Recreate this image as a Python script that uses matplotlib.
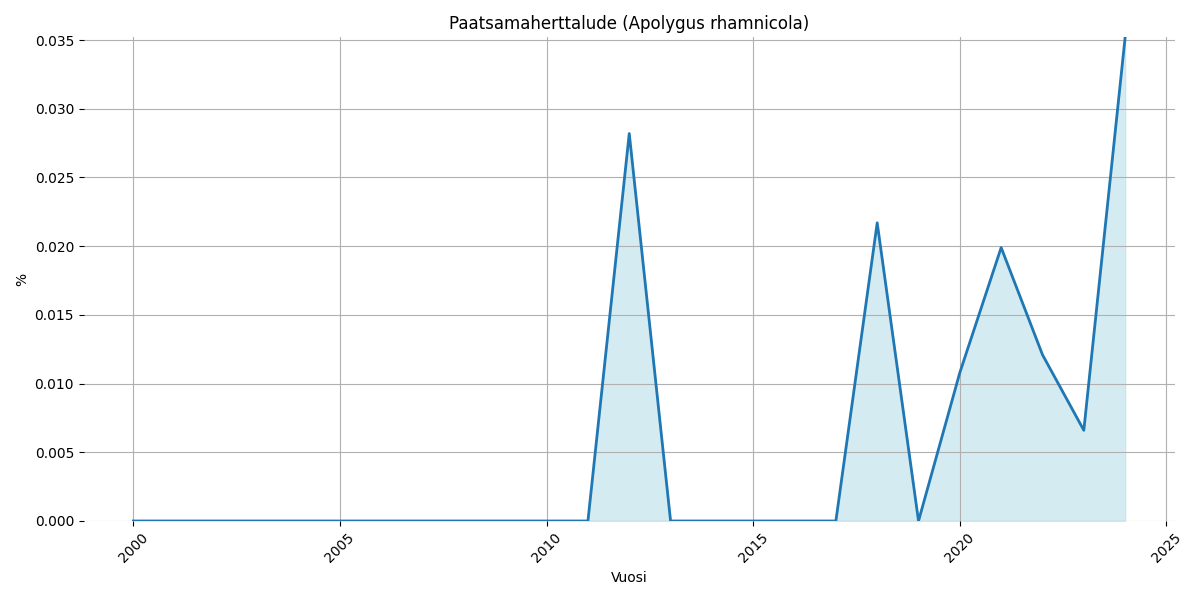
import numpy as np
import matplotlib.pyplot as plt

# Données
years = list(range(2000, 2025))
values = [0, 0, 0, 0, 0, 0, 0, 0, 0, 0, 0, 0,
          0.0282, 0, 0, 0, 0, 0,
          0.0217, 0, 0.0108, 0.0199, 0.0121, 0.0066, 0.0352]

fig, ax = plt.subplots(figsize=(12, 6), dpi=100)

ax.fill_between(years, values, color="lightblue", alpha=0.5)
ax.plot(years, values, color="tab:blue", linewidth=2)

ax.set_title("Paatsamaherttalude (Apolygus rhamnicola)")
ax.set_xlabel("Vuosi")
ax.set_ylabel("%")
ax.set_ylim(0, max(values))
ax.grid(True)

for spine in ax.spines.values():
    spine.set_visible(False)

plt.xticks(rotation=45)
plt.tight_layout()
plt.savefig("out.png")
plt.close()
